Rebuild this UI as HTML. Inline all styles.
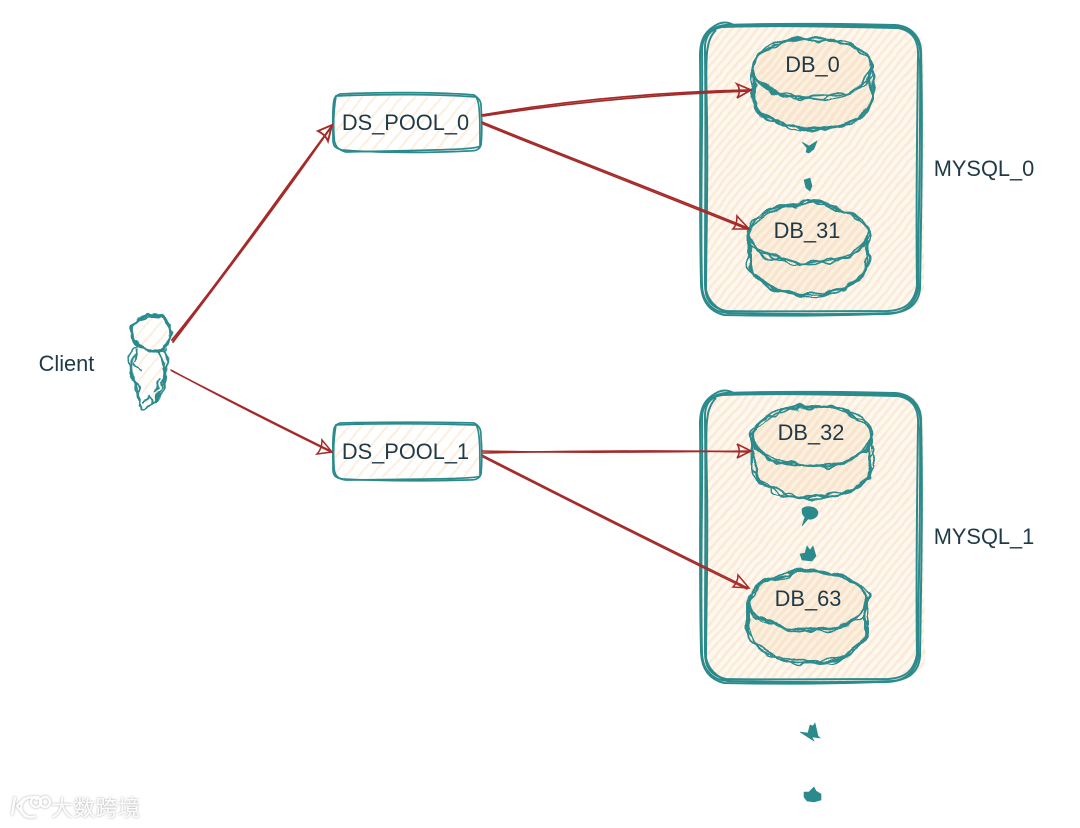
<!DOCTYPE html>
<html>
<head>
<meta charset="utf-8">
<style>
html,body{margin:0;padding:0;background:#fff;width:1080px;height:828px;overflow:hidden}
svg{display:block}
text{font-family:"Liberation Sans","Noto Sans CJK SC",sans-serif;fill:#1f3a46}
</style>
</head>
<body>
<svg width="1080" height="828" viewBox="0 0 1080 828" xmlns="http://www.w3.org/2000/svg">
<defs>
  <pattern id="h" width="6.5" height="6.5" patternUnits="userSpaceOnUse" patternTransform="rotate(-50)">
    <rect width="6.5" height="6.5" fill="#fff8f0"/>
    <rect width="6.5" height="2.6" fill="#fbead6"/>
  </pattern>
  <pattern id="hd" width="6.5" height="6.5" patternUnits="userSpaceOnUse" patternTransform="rotate(-50)">
    <rect width="6.5" height="6.5" fill="#fcf0e1"/>
    <rect width="6.5" height="3.4" fill="#f9e5cd"/>
  </pattern>
  <pattern id="h2" width="10" height="10" patternUnits="userSpaceOnUse" patternTransform="rotate(-50)">
    <rect width="10" height="10" fill="#fff"/>
    <rect width="10" height="2" fill="#fcefdf"/>
  </pattern>
  <filter id="soft" filterUnits="userSpaceOnUse" x="0" y="0" width="1080" height="828"><feGaussianBlur stdDeviation="0.35"/></filter>
  <filter id="w1" filterUnits="userSpaceOnUse" x="0" y="0" width="1080" height="828">
    <feTurbulence type="fractalNoise" baseFrequency="0.04" numOctaves="2" seed="3" result="n"/>
    <feDisplacementMap in="SourceGraphic" in2="n" scale="20" xChannelSelector="R" yChannelSelector="G" color-interpolation-filters="sRGB" result="d"/>
    <feOffset in="d" dx="5" dy="6"/>
  </filter>
  <filter id="w2" filterUnits="userSpaceOnUse" x="0" y="0" width="1080" height="828">
    <feTurbulence type="fractalNoise" baseFrequency="0.05" numOctaves="2" seed="11" result="n"/>
    <feDisplacementMap in="SourceGraphic" in2="n" scale="20" xChannelSelector="R" yChannelSelector="G" color-interpolation-filters="sRGB" result="d"/>
    <feOffset in="d" dx="5" dy="6"/>
  </filter>
  <filter id="w3" filterUnits="userSpaceOnUse" x="0" y="0" width="1080" height="828">
    <feTurbulence type="fractalNoise" baseFrequency="0.06" numOctaves="2" seed="23" result="n"/>
    <feDisplacementMap in="SourceGraphic" in2="n" scale="20" xChannelSelector="R" yChannelSelector="G" color-interpolation-filters="sRGB" result="d"/>
    <feOffset in="d" dx="5" dy="6"/>
  </filter>
  <filter id="wc" filterUnits="userSpaceOnUse" x="0" y="0" width="1080" height="828">
    <feTurbulence type="fractalNoise" baseFrequency="0.09" numOctaves="2" seed="5" result="n"/>
    <feDisplacementMap in="SourceGraphic" in2="n" scale="12" xChannelSelector="R" yChannelSelector="G" color-interpolation-filters="sRGB" result="d"/>
    <feOffset in="d" dx="2.4" dy="2.4"/>
  </filter>
  <filter id="hw" filterUnits="userSpaceOnUse" x="0" y="0" width="1080" height="828">
    <feTurbulence type="fractalNoise" baseFrequency="0.025" numOctaves="3" seed="7" result="n"/>
    <feDisplacementMap in="SourceGraphic" in2="n" scale="7" xChannelSelector="R" yChannelSelector="G" color-interpolation-filters="sRGB" result="d"/>
    <feOffset in="d" dx="1.5" dy="1.5"/>
  </filter>
  <filter id="wm" x="-20%" y="-40%" width="140%" height="180%">
    <feDropShadow dx="0" dy="0" stdDeviation="1" flood-color="#999" flood-opacity="0.9"/>
  </filter>
  <g id="dbl" fill="none" stroke="#2b8a8c" stroke-width="1.9">
    <ellipse cx="0" cy="0" rx="59" ry="30"/>
    <path d="M-59 0 L-59 32 C-54 52 -28 61 0 61 C28 61 54 52 59 32 L59 0"/>
  </g>
  <g id="dbf">
    <path d="M-60 0 C-60 -20 -30 -30 0 -30 C30 -30 60 -20 60 0 L60 32 C54 52 28 61 0 61 C-28 61 -54 52 -60 32Z" fill="url(#hd)"/>
  </g>
  <g id="wbox" fill="none" stroke="#2b8a8c" stroke-width="2">
    <path d="M726 25 C780 23 850 24 895 25 C912 26 921 38 921 52 C923 130 921 220 920 288 C919 304 908 312 892 313 C830 315 770 314 728 313 C712 312 703 302 702 286 C700 210 703 120 702 50 C702 36 712 26 726 25Z"/>
    <path d="M722 27 C780 25 850 27 898 28 C914 31 919 42 918 58 C917 130 916 220 917 286 C914 304 904 310 888 311 C830 311 770 312 726 311 C709 307 705 298 705 284 C705 210 706 120 705 52 C704 36 710 29 722 27Z"/>
    <path d="M718 24 C724 21 730 23 734 25 C790 24 850 25 900 27 C916 32 922 44 920 60 C921 140 918 230 918 290 C914 308 900 315 880 314 C820 316 770 316 724 315 C708 311 701 300 701 282 C699 200 701 120 700 56 C700 38 706 30 718 24Z"/>
    <path d="M716 30 C704 42 706 60 707 120 C708 190 706 250 706 290 C708 300 716 310 730 313"/>
  </g>
</defs>

<g filter="url(#soft)">
  <!-- fills -->
  <g filter="url(#hw)">
    <rect x="702" y="25" width="222" height="288" rx="26" fill="url(#h)"/>
    <rect x="702" y="393" width="222" height="288" rx="26" fill="url(#h)"/>
    <use href="#dbf" x="812" y="68"/>
    <use href="#dbf" x="808" y="233"/>
    <use href="#dbf" x="812" y="436"/>
    <use href="#dbf" x="808" y="601"/>
    <rect x="334" y="96" width="146" height="54" rx="6" fill="url(#h2)"/>
    <rect x="334" y="424" width="146" height="54" rx="6" fill="url(#h2)"/>
    <path d="M150 317 C162 317 169 326 168 335 C168 345 160 350 150 349 C139 349 133 342 134 332 C135 324 142 317 150 317Z" fill="url(#h2)"/>
    <path d="M140 352 L164 352 C170 370 168 388 156 404 L146 406 C136 390 132 370 140 352Z" fill="url(#h2)"/>
  </g>

  <!-- MySQL containers -->
  <use href="#wbox"/>
  <use href="#wbox" y="368"/>

  <!-- DB cylinders: three wobbly passes -->
  <g filter="url(#w1)">
    <use href="#dbl" x="812" y="67"/><use href="#dbl" x="808" y="232"/>
    <use href="#dbl" x="812" y="435"/><use href="#dbl" x="808" y="600"/>
  </g>
  <g filter="url(#w2)">
    <use href="#dbl" x="812" y="67"/><use href="#dbl" x="808" y="232"/>
    <use href="#dbl" x="812" y="435"/><use href="#dbl" x="808" y="600"/>
  </g>
  <g filter="url(#w3)">
    <use href="#dbl" x="812" y="67"/><use href="#dbl" x="808" y="232"/>
    <use href="#dbl" x="812" y="435"/><use href="#dbl" x="808" y="600"/>
  </g>

  <!-- Pools -->
  <g fill="none" stroke="#2b8a8c" stroke-width="1.7">
    <path d="M340 94 C380 92 440 92 474 95 C480 99 481 102 481 106 C482 120 482 135 481 145 C479 151 474 151 468 151 C430 153 380 153 342 150 C335 148 333 146 333 140 C333 125 332 110 334 100 C335 96 337 95 340 94Z"/>
    <path d="M336 96 C380 94 440 94 476 97 C480 102 480 120 480 146 C476 150 430 150 346 152 C338 150 334 146 334 136 C333 120 334 108 336 96Z"/>
    <path d="M340 423 C380 422 440 422 474 423 C480 426 481 430 481 436 C482 450 482 464 481 474 C479 480 474 480 468 480 C430 481 380 481 342 479 C335 478 333 475 333 469 C333 455 332 440 334 429 C335 425 337 424 340 423Z"/>
    <path d="M336 425 C380 423 440 424 476 425 C480 430 480 450 480 476 C476 479 430 479 346 480 C338 479 334 476 334 466 C333 450 334 436 336 425Z"/>
  </g>

  <!-- Client -->
  <g fill="none" stroke="#2b8a8c" stroke-width="2" filter="url(#wc)">
    <path d="M150 314 C164 314 173 326 171 336 C169 348 160 352 150 351 C138 351 130 342 132 330 C134 321 142 315 150 314Z"/>
    <path d="M146 317 C160 313 170 322 170 332 C172 344 162 354 146 350 C134 346 130 336 134 326 C137 320 142 318 146 317Z"/>
    <path d="M138 348 C130 350 127 356 130 362 C132 376 134 388 137 392 C140 400 142 404 142 408 C148 409 154 406 157 402 C160 394 166 388 166 376 C168 366 170 356 166 350"/>
    <path d="M136 354 C130 360 132 374 136 386 C140 392 142 400 140 406 M158 350 C164 356 168 368 164 380 C160 388 158 396 156 404"/>
    <path d="M132 380 C136 384 142 384 140 392 M160 378 L156 392 M166 376 L162 394 M134 362 L142 372 M144 402 L150 396 L154 406 M138 350 L136 362"/>
    <path d="M142 349 C150 354 158 354 168 348"/>
  </g>

  <!-- Arrows -->
  <g fill="none" stroke="#a52c2a" stroke-linecap="round">
    <g stroke-width="1.9">
      <path d="M172 340 C225 275 280 195 332 126"/>
      <path d="M173 342 C226 272 282 198 331 127"/>
      <path d="M318 131 L332 125 L328 141 C326 136 322 133 318 131Z"/>
    </g>
    <g stroke-width="1.5">
      <path d="M172 371 C225 398 280 426 331 451"/>
      <path d="M171 370 C226 400 282 428 331 452"/>
      <path d="M317 454 L332 452 L322 440 C322 446 320 451 317 454Z"/>
    </g>
    <g stroke-width="1.7">
      <path d="M482 115 C570 100 660 92 750 90"/>
      <path d="M483 116 C572 102 662 94 749 91"/>
      <path d="M737 84 L751 90 L737 98 C740 94 740 88 737 84Z"/>
    </g>
    <g stroke-width="1.6">
      <path d="M482 122 C570 158 660 192 748 228"/>
      <path d="M483 124 C572 160 662 196 747 229"/>
      <path d="M737 216 L749 229 L733 229 C736 226 737 221 737 216Z"/>
    </g>
    <g stroke-width="1.6">
      <path d="M482 451 C570 453 660 452 750 451"/>
      <path d="M483 453 C572 451 662 450 749 452"/>
      <path d="M737 444 L751 451 L737 458 C740 454 740 448 737 444Z"/>
    </g>
    <g stroke-width="1.5">
      <path d="M482 455 C570 500 660 545 748 588"/>
      <path d="M483 457 C572 502 662 548 747 589"/>
      <path d="M738 575 L749 588 L733 587 C736 584 738 580 738 575Z"/>
    </g>
  </g>

  <!-- Dots -->
  <g fill="#2b8a8c" stroke="#2b8a8c" stroke-width="0.6">
    <path d="M802 142 L809 146 L817 141 L814 149 L809 153 L806 152 L807 148Z"/>
    <path d="M804 180 L810 178 L812 186 L810 191 L806 188Z"/>
    <path d="M802 509 C806 505 816 506 818 512 C818 518 812 520 808 519 L802 526 L805 517 C802 515 802 512 802 509Z"/>
    <path d="M800 554 L805 553 L807 546 L810 550 L813 546 L816 556 L812 561 L802 560Z"/>
    <path d="M800 732 L808 733 L810 725 L813 726 L815 723 L818 736 L820 738 L812 737 L814 741 Z"/>
    <path d="M804 792 L809 792 L814 787 L816 791 L821 794 L821 800 L814 802 L807 801 L804 797Z"/>
  </g>
</g>

<!-- Labels -->
<g font-size="21.8" text-anchor="middle">
  <text x="66.5" y="371">Client</text>
  <text x="405.5" y="130">DS_POOL_0</text>
  <text x="405.5" y="459">DS_POOL_1</text>
  <text x="812.5" y="72">DB_0</text>
  <text x="807" y="238">DB_31</text>
  <text x="811" y="440">DB_32</text>
  <text x="808" y="606">DB_63</text>
  <text x="984" y="176">MYSQL_0</text>
  <text x="984" y="544">MYSQL_1</text>
</g>

<!-- Watermark -->
<g filter="url(#wm)">
  <g fill="none" stroke="#fdfdfd" stroke-width="2.4">
    <path d="M15 797 L12 815 M25 798 L17 806 L26 817"/>
    <path d="M38 800 A10 10 0 1 0 36 816"/>
    <circle cx="36" cy="802" r="5"/>
    <circle cx="45" cy="802" r="5"/>
  </g>
  <text x="51" y="816" font-size="22" style="fill:#fdfdfd" textLength="89">大数跨境</text>
</g>
</svg>
</body>
</html>
